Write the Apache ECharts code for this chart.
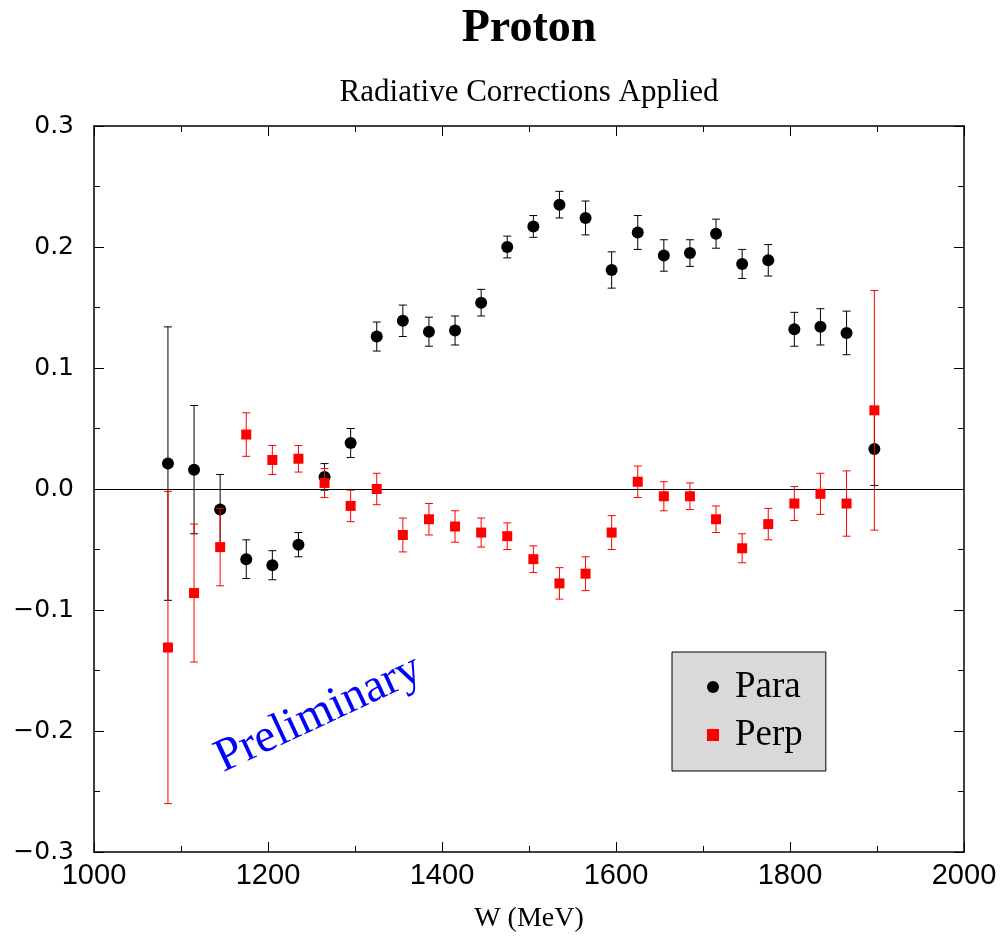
<!DOCTYPE html>
<html>
<head>
<meta charset="utf-8">
<script src="https://cdn.jsdelivr.net/npm/echarts@6/dist/echarts.min.js"></script>
<style>
html,body{margin:0;padding:0;background:#fff;}
#chart{width:1003px;height:938px;}
</style>
</head>
<body>
<div id="chart"></div>
<script>
// W values (MeV)
const W = [1085,1115,1145,1175,1205,1235,1265,1295,1325,1355,1385,1415,1445,1475,1505,1535,1565,1595,1625,1655,1685,1715,1745,1775,1805,1835,1865,1897];
// Para asymmetry and errors
const paraVal = [0.021,0.016,-0.017,-0.058,-0.063,-0.046,0.010,0.038,0.126,0.139,0.130,0.131,0.154,0.200,0.217,0.235,0.224,0.181,0.212,0.193,0.195,0.211,0.186,0.189,0.132,0.134,0.129,0.033];
const paraErr = [0.113,0.053,0.029,0.016,0.012,0.010,0.011,0.012,0.012,0.013,0.012,0.012,0.011,0.009,0.009,0.011,0.014,0.015,0.014,0.013,0.011,0.012,0.012,0.013,0.014,0.015,0.018,0.030];
// Perp asymmetry and errors
const perpVal = [-0.131,-0.086,-0.048,0.045,0.024,0.025,0.005,-0.014,0.000,-0.038,-0.025,-0.031,-0.036,-0.039,-0.058,-0.078,-0.070,-0.036,0.006,-0.006,-0.006,-0.025,-0.049,-0.029,-0.012,-0.004,-0.012,0.065];
const perpErr = [0.129,0.057,0.032,0.018,0.012,0.011,0.012,0.013,0.013,0.014,0.013,0.013,0.012,0.011,0.011,0.013,0.014,0.014,0.013,0.012,0.011,0.011,0.012,0.013,0.014,0.017,0.027,0.099];

const seriesNames = ['Para','Perp'];
const titleText = 'Proton';
const subtitleText = 'Radiative Corrections Applied';
const xAxisName = 'W (MeV)';
const watermark = 'Preliminary';

const paraData = W.map((w,i)=>[w, paraVal[i], paraErr[i]]);
const perpData = W.map((w,i)=>[w, perpVal[i], perpErr[i]]);

function errRender(color){
  return function(params, api){
    const x = api.value(0), y = api.value(1), e = api.value(2);
    const t = api.coord([x, y + e]);
    const b = api.coord([x, y - e]);
    const h = 4;
    const st = {stroke: color, lineWidth: 1};
    return {type:'group', children:[
      {type:'line', shape:{x1:t[0], y1:t[1], x2:b[0], y2:b[1]}, style:st},
      {type:'line', shape:{x1:t[0]-h, y1:t[1], x2:t[0]+h, y2:t[1]}, style:st},
      {type:'line', shape:{x1:b[0]-h, y1:b[1], x2:b[0]+h, y2:b[1]}, style:st}
    ]};
  };
}

const chart = echarts.init(document.getElementById('chart'), null, {renderer:'canvas'});
const axisCommon = {
  axisLine:{show:true, onZero:false, lineStyle:{color:'#000', width:1.5}},
  axisTick:{show:true, inside:true, length:10, lineStyle:{color:'#000', width:1}},
  minorTick:{show:true, splitNumber:2, length:6, lineStyle:{color:'#000', width:1}},
  splitLine:{show:false},
  minorSplitLine:{show:false}
};
const yFmt = v => (v < -1e-9 ? '\u2212' : '') + Math.abs(v).toFixed(1);
const xFmt = v => String(Math.round(v));

chart.setOption({
  animation:false,
  backgroundColor:'#fff',
  title:[
    {text:titleText, left:529, textAlign:'center', top:6, padding:0,
     textStyle:{fontFamily:'Liberation Serif', fontWeight:'bold', fontSize:46, color:'#000'}},
    {text:subtitleText, left:529, textAlign:'center', top:77, padding:0,
     textStyle:{fontFamily:'Liberation Serif', fontWeight:'normal', fontSize:31, color:'#000'}}
  ],
  grid:{left:94, right:39, top:126, bottom:86, containLabel:false},
  xAxis:[
    Object.assign({type:'value', position:'bottom', min:1000, max:2000, interval:200,
      name:xAxisName, nameLocation:'middle', nameGap:53,
      nameTextStyle:{fontFamily:'Liberation Serif', fontSize:28, color:'#000'},
      axisLabel:{show:true, margin:9, fontFamily:'Liberation Sans', fontSize:29, color:'#000', formatter:xFmt}}, axisCommon),
    Object.assign({type:'value', position:'top', min:1000, max:2000, interval:200,
      axisLabel:{show:false}}, axisCommon)
  ],
  yAxis:[
    Object.assign({type:'value', position:'left', min:-0.3, max:0.3, interval:0.1,
      axisLabel:{show:true, margin:20, fontFamily:'DejaVu Sans', fontSize:25, color:'#000', formatter:yFmt}}, axisCommon),
    Object.assign({type:'value', position:'right', min:-0.3, max:0.3, interval:0.1,
      axisLabel:{show:false}}, axisCommon)
  ],
  legend:{
    show:true, orient:'vertical', left:672, top:652,
    data:seriesNames,
    backgroundColor:'#d9d9d9', borderColor:'#000', borderWidth:1, borderRadius:0,
    padding:[11, 23, 12, 35],
    itemWidth:12, itemHeight:12, itemGap:0,
    itemStyle:{opacity:1},
    textStyle:{fontFamily:'Liberation Serif', fontSize:37, color:'#000', lineHeight:48, padding:[0,0,0,11]}
  },
  graphic:[
    {type:'text', x:218, y:761, rotation:25*Math.PI/180, silent:true,
     style:{text:watermark, x:0, y:0, align:'left', verticalAlign:'middle',
            font:'47px "Liberation Serif"', fill:'#0000ff'}}
  ],
  series:[
    {name:'ParaErr', type:'custom', xAxisIndex:0, yAxisIndex:0, renderItem:errRender('#000'),
     data:paraData, encode:{x:0, y:1}, z:2, silent:true,
     markLine:{silent:true, symbol:['none','none'], label:{show:false},
       lineStyle:{color:'#000', width:1.2, type:'solid'}, data:[{yAxis:0}]}},
    {name:'Para', type:'scatter', xAxisIndex:0, yAxisIndex:0, symbol:'circle', symbolSize:12,
     itemStyle:{color:'#000', opacity:1}, data:paraData.map(d=>[d[0], d[1]]), z:3},
    {name:'PerpErr', type:'custom', xAxisIndex:0, yAxisIndex:0, renderItem:errRender('#ff0000'),
     data:perpData, encode:{x:0, y:1}, z:4, silent:true},
    {name:'Perp', type:'scatter', xAxisIndex:0, yAxisIndex:0, symbol:'rect', symbolSize:10,
     itemStyle:{color:'#ff0000', opacity:1}, data:perpData.map(d=>[d[0], d[1]]), z:5}
  ]
});
</script>
</body>
</html>
